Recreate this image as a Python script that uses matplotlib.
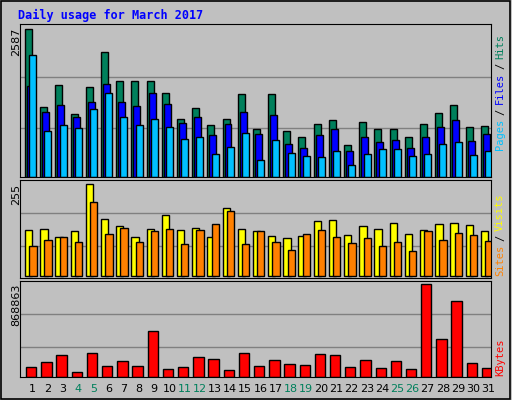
import matplotlib.pyplot as plt
import numpy as np

days = list(range(1, 32))
weekends = [4, 5, 11, 12, 18, 19, 25, 26]

hits = [2587, 1229, 1617, 1105, 1582, 2181, 1687, 1687, 1687, 1476, 1017, 1211, 911, 1017, 1458, 841,
        1458, 805, 700, 929, 1000, 559, 964, 841, 841, 700, 929, 1123, 1264, 876, 894]
files = [1599, 1141, 1264, 1052, 1317, 1635, 1317, 1247, 1476, 1282, 947, 1052, 735, 929, 1141, 753,
         1088, 576, 506, 735, 841, 453, 700, 612, 647, 506, 700, 876, 1000, 629, 753]
pages = [2129, 806, 911, 858, 1194, 1476, 1052, 911, 1017, 876, 664, 700, 400, 523, 770, 294,
         647, 417, 365, 347, 453, 206, 400, 488, 488, 365, 400, 576, 612, 382, 453]
visits = [127, 130, 108, 125, 255, 158, 139, 108, 130, 169, 127, 133, 108, 188, 130, 125,
          111, 105, 111, 152, 155, 114, 139, 130, 147, 116, 127, 144, 147, 141, 125]
sites = [83, 100, 108, 94, 205, 116, 133, 94, 125, 130, 89, 127, 144, 180, 89, 125,
         94, 72, 116, 127, 108, 91, 105, 83, 94, 69, 125, 100, 119, 114, 97]
kbytes = [95130, 142700, 199800, 47570, 218800, 104600, 152200, 104600, 428100, 76100, 95130,
          180700, 171200, 66590, 218800, 104600, 161700, 123700, 114200, 209300, 199800, 95130,
          161700, 85620, 152200, 76100, 868863, 352000, 713500, 133200, 85620]

W, H = 512, 400
bg = "#c0c0c0"
mono = "DejaVu Sans Mono"
x = np.array(days)

fig = plt.figure(figsize=(W / 100, H / 100), dpi=100, facecolor=bg)


def panel(top, bottom):
    ax = fig.add_axes([20 / W, 1 - bottom / H, 471 / W, (bottom - top) / H])
    ax.set_facecolor(bg)
    ax.set_xlim(0.5, 31.5)
    ax.set_xticks([])
    ax.set_yticks([])
    for s in ax.spines.values():
        s.set_color("black")
    return ax


edge = dict(edgecolor="black", linewidth=1, align="edge")

ax1 = panel(24, 177)
ax1.set_ylim(0, 2680)
for g in (858, 1752):
    ax1.axhline(g, color="#808080", lw=1, zorder=0)
ax1.bar(x - 0.17, hits, 0.46, color="#00805c", **edge)
ax1.bar(x - 0.04, files, 0.46, color="#0000ff", **edge)
ax1.bar(x + 0.11, pages, 0.46, color="#00c0ff", **edge)

ax2 = panel(180, 278)
ax2.set_ylim(-5.5, 267)
for g in (83, 175):
    ax2.axhline(g, color="#808080", lw=1, zorder=0)
ax2.bar(x - 0.17, visits, 0.48, color="#ffff00", **edge)
ax2.bar(x + 0.11, sites, 0.48, color="#ff8000", **edge)

ax3 = panel(281, 377)
ax3.set_ylim(-2000, 897400)
for g in (275900, 589800):
    ax3.axhline(g, color="#808080", lw=1, zorder=0)
ax3.bar(x - 0.1, kbytes, 0.68, color="#ff0000", **edge)

for d in days:
    ax3.text(d + 0.33, -0.07, str(d), transform=ax3.get_xaxis_transform(), ha="center", va="top",
             fontsize=8, color="#00805c" if d in weekends else "black")

fig.text(18 / W, 1 - 15 / H, "Daily usage for March 2017", color="#0000ff", fontsize=8.5,
         fontweight="bold", family=mono, va="center")

for label, ytop in (("2587", 28), ("255", 184), ("868863", 284)):
    fig.text(16 / W, 1 - ytop / H, label, rotation=90, ha="center", va="top", fontsize=8)

# right-hand labels, drawn word by word from the bottom up
fig.canvas.draw()
renderer = fig.canvas.get_renderer()


def side(parts, ybottom):
    y = ybottom
    for txt, col in parts:
        t = fig.text(500 / W, 1 - y / H, txt, rotation=90, ha="center", va="bottom",
                     fontsize=7.5, family=mono, color=col)
        y -= t.get_window_extent(renderer).height + 4


side([("Pages", "#00c0ff"), ("/", "black"), ("Files", "#0000ff"), ("/", "black"), ("Hits", "#00805c")], 150)
side([("Sites", "#ff8000"), ("/", "black"), ("Visits", "#ffff00")], 276)
side([("KBytes", "#ff0000")], 376)

fig.add_artist(plt.Rectangle((0.002, 0.003), 0.995, 0.994, transform=fig.transFigure,
                             fill=False, edgecolor="black", lw=1.2))
fig.savefig("out.png", dpi=100, facecolor=bg)
